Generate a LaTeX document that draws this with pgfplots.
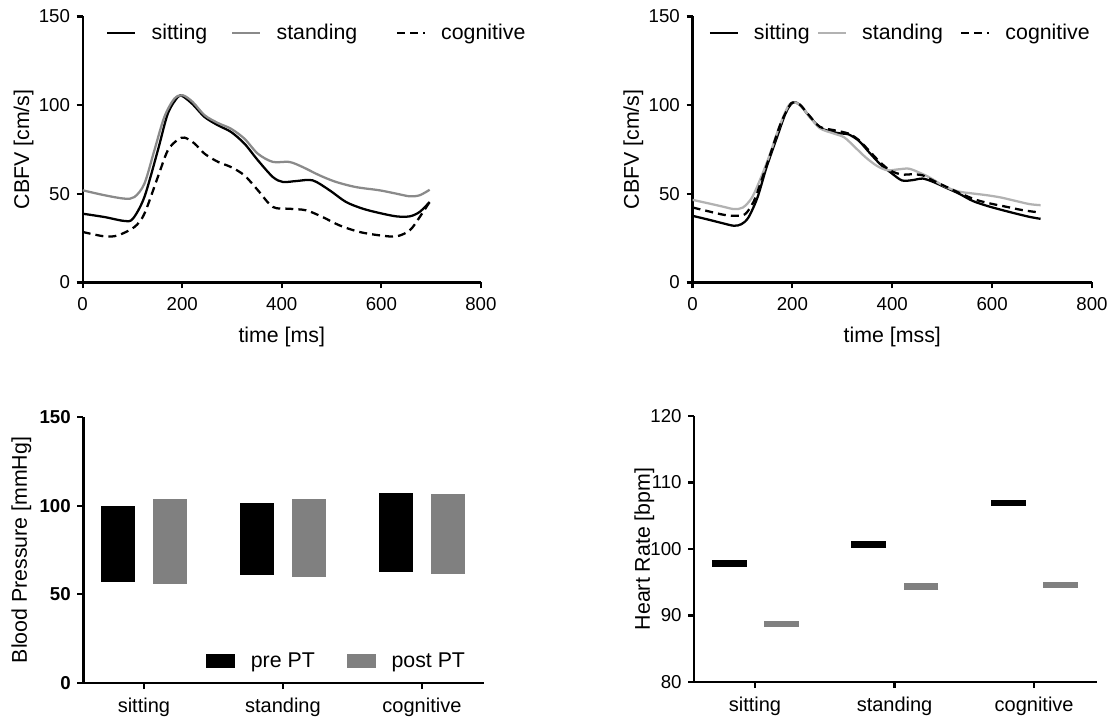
\documentclass[border=0pt]{standalone}
\usepackage{fontspec}
\setmainfont{Liberation Sans}
\usepackage{pgfplots}
\pgfplotsset{compat=1.18}
\definecolor{grayA}{HTML}{8A8A8A}
\definecolor{grayB}{HTML}{B2B2B2}
\definecolor{grayC}{HTML}{808080}
\pgfplotsset{
  prism/.style={
    scale only axis,
    axis lines=left,
    axis line style={line width=1.6pt,-},
    major tick style={line width=1.6pt,black},
    tick align=outside,
    major tick length=4.5pt,
    tick label style={font=\fontsize{14}{16}\selectfont},
    xticklabel style={yshift=-3.5pt},
    yticklabel style={xshift=-1.5pt},
    label style={font=\fontsize{16}{19}\selectfont},
    /pgf/number format/assume math mode=true,
    legend cell align=left,
  },
  cbfv/.style={
    prism,
    height=199.5pt,
    xmin=0,xmax=800,ymin=0,ymax=150,
    xtick={0,200,400,600,800}, ytick={0,50,100,150},
    ylabel={CBFV [cm/s]},
    ylabel style={at={(axis description cs:-0.148,0.5)},anchor=center},
    xlabel style={at={(axis description cs:0.5,-0.2056)},anchor=center},
    legend columns=3,
    legend image code/.code={\draw[##1] (0pt,0pt) -- (21pt,0pt);},
  },
  cat/.style={
    prism,
    height=199.5pt,
    xmin=-0.435,xmax=2.45,
    xtick={0,1,2}, xticklabels={sitting,standing,cognitive},
    xticklabel style={font=\fontsize{15}{17}\selectfont},
  },
}
\begin{document}
\begin{tikzpicture}
\path[use as bounding box] (0,0) rectangle (838.5pt,538.5pt);
% ---------------- top left
\begin{axis}[cbfv, at={(62pt,326.625pt)}, anchor=south west, width=298.7pt,
  xlabel={time [ms]},
  legend style={at={(rel axis cs:0.0595,0.939)}, anchor=west, draw=none, fill=none,
    inner sep=0pt, outer sep=0pt, nodes={inner sep=0pt},
    font=\fontsize{16}{19}\selectfont,
    /tikz/every odd column/.append style={column sep=11.25pt},
    /tikz/column 2/.append style={column sep=18pt},
    /tikz/column 4/.append style={column sep=29pt}},
]
\addplot[black, line width=1.7pt, smooth, tension=0.5] coordinates {
(0,38.8) (44,36.9) (84,34.7) (101,36.0) (124,48.2) (151,74.5) (171,95.2) (191,104.6)
(201,105) (221,100.5) (245,93.3) (272,88.6) (298,84.9) (325,78.3) (352,68.9) (382,59.5)
(402,56.7) (429,57.2) (462,57.6) (496,52) (529,45.4) (563,41.6) (596,39.2) (630,37.3)
(657,37.3) (677,39.8) (697,45.4)};
\addlegendentry{sitting}
\addplot[grayA, line width=1.7pt, smooth, tension=0.5] coordinates {
(0,52) (44,49.2) (84,47.3) (104,48.2) (124,55.7) (144,74.5) (164,93.3) (184,103.6)
(201,105.6) (221,101.8) (245,94.3) (272,89.9) (298,86.7) (325,81.1) (352,72.6) (382,68)
(415,68) (442,65.1) (476,60.4) (509,56.7) (549,53.8) (596,52) (630,50.1) (657,48.6)
(677,49.2) (697,52.3)};
\addlegendentry{standing}
\addplot[black, line width=1.7pt, dash pattern=on 6pt off 3.8pt, smooth, tension=0.5] coordinates {
(0,28.5) (44,26) (71,26.6) (104,31.3) (124,38.8) (151,59.5) (171,74.5) (191,80.5)
(205,81.7) (225,78.3) (245,72.6) (272,68) (298,65.1) (325,60.4) (352,52) (382,42.6)
(415,41.6) (449,40.7) (482,36.9) (516,32.2) (556,28.5) (596,26.6) (630,26) (657,29.4)
(677,36.9) (697,45.4)};
\addlegendentry{cognitive}
\end{axis}
% ---------------- top right
\begin{axis}[cbfv, at={(519.4pt,326.625pt)}, anchor=south west, width=299.6pt,
  xlabel={time [mss]},
  legend style={at={(rel axis cs:0.0403,0.938)}, anchor=west, draw=none, fill=none,
    inner sep=0pt, outer sep=0pt, nodes={inner sep=0pt},
    font=\fontsize{16}{19}\selectfont,
    /tikz/every odd column/.append style={column sep=11.25pt},
    /tikz/column 2/.append style={column sep=5.5pt},
    /tikz/column 4/.append style={column sep=13pt}},
]
\addplot[black, line width=1.7pt, smooth, tension=0.5] coordinates {
(0,37.6) (34,35.3) (62,33.3) (83,32.0) (98,32.9) (112,36.7) (130,47.9) (148,64.8)
(169,81.8) (187,95.9) (201,101.5) (215,100.2) (233,94) (255,87.4) (276,85.2) (297,84.0)
(312,83.6) (333,79.9) (354,73.3) (376,66.7) (397,62.0) (419,57.6) (440,57.7) (461,58.6)
(483,56.6) (504,53.9) (533,50.2) (561,46.0) (590,43.2) (618,41.0) (647,38.9) (675,37.0)
(697,35.9)};
\addlegendentry{sitting}
\addplot[grayB, line width=1.7pt, smooth, tension=0.5] coordinates {
(0,46.6) (34,44.5) (62,42.7) (83,41.4) (101,42.3) (119,47.9) (137,59.2) (155,72.4)
(172,86.5) (190,98.7) (201,101.5) (215,100.2) (233,94) (255,87) (283,84) (304,81.8)
(326,76.1) (347,70.5) (369,65.8) (390,63.3) (412,63.8) (433,64.2) (454,62) (475,59.2)
(504,54.3) (533,51.3) (561,50.2) (590,49.2) (618,47.9) (647,46) (675,44.2) (697,43.6)};
\addlegendentry{standing}
\addplot[black, line width=1.7pt, dash pattern=on 6pt off 3.8pt, smooth, tension=0.5] coordinates {
(0,42.3) (34,40.0) (62,38.2) (83,37.6) (105,38.5) (123,46.0) (140,59.2) (158,74.2)
(176,89.3) (194,99.6) (201,101.5) (215,100.3) (233,94.4) (255,87.8) (283,85.9) (312,84.0)
(333,80.3) (354,74.2) (376,67.7) (397,63.0) (419,60.9) (440,61.0) (461,60.4) (483,57.3)
(511,53.6) (540,49.8) (568,46.6) (597,44.5) (625,42.9) (661,40.8) (697,39.4)};
\addlegendentry{cognitive}
\end{axis}
% ---------------- bottom left
\begin{axis}[cat, at={(62.6pt,26.25pt)}, anchor=south west, width=300.75pt,
  ymin=0, ymax=150, ytick={0,50,100,150},
  yticklabel style={font=\fontsize{14}{16}\selectfont\bfseries},
  ylabel={Blood Pressure [mmHg]},
  ylabel style={at={(axis description cs:-0.155,0.5)},anchor=center},
  legend columns=2,
  legend image code/.code={\fill[#1] (0pt,-5.25pt) rectangle (21.5pt,5.25pt);},
  legend style={at={(rel axis cs:0.306,0.0827)}, anchor=west, draw=none, fill=none,
    inner sep=0pt, outer sep=0pt, nodes={inner sep=0pt},
    font=\fontsize{16}{19}\selectfont,
    /tikz/every odd column/.append style={column sep=12pt},
    /tikz/every even column/.append style={column sep=24pt}},
]
\addplot[fill=black, draw=none] coordinates {(-0.3065,56.8) (-0.0615,56.8) (-0.0615,99.9) (-0.3065,99.9)};
\addlegendentry{pre PT}
\addplot[fill=grayC, draw=none] coordinates {(0.0675,56.1) (0.3125,56.1) (0.3125,103.9) (0.0675,103.9)};
\addlegendentry{post PT}
\addplot[fill=black, draw=none, forget plot] coordinates {(0.6935,60.75) (0.9385,60.75) (0.9385,101.6) (0.6935,101.6)};
\addplot[fill=grayC, draw=none, forget plot] coordinates {(1.0675,59.6) (1.3125,59.6) (1.3125,103.9) (1.0675,103.9)};
\addplot[fill=black, draw=none, forget plot] coordinates {(1.6935,62.4) (1.9385,62.4) (1.9385,107.25) (1.6935,107.25)};
\addplot[fill=grayC, draw=none, forget plot] coordinates {(2.0675,61.3) (2.3125,61.3) (2.3125,106.3) (2.0675,106.3)};
\end{axis}
% ---------------- bottom right
\begin{axis}[cat, at={(520.7pt,27pt)}, anchor=south west, width=302pt,
  ymin=80, ymax=120, ytick={80,90,100,110,120},
  ylabel={Heart Rate [bpm]},
  ylabel style={at={(axis description cs:-0.124,0.5)},anchor=center},
]
\addplot[only marks, mark=-, mark size=13pt, mark options={line width=5pt, draw=black}]
  coordinates {(-0.185,97.85) (0.815,100.7) (1.815,106.9)};
\addplot[only marks, mark=-, mark size=13pt, mark options={line width=5pt, draw=grayC}]
  coordinates {(0.19,88.7) (1.19,94.4) (2.19,94.6)};
\end{axis}
\end{tikzpicture}
\end{document}
